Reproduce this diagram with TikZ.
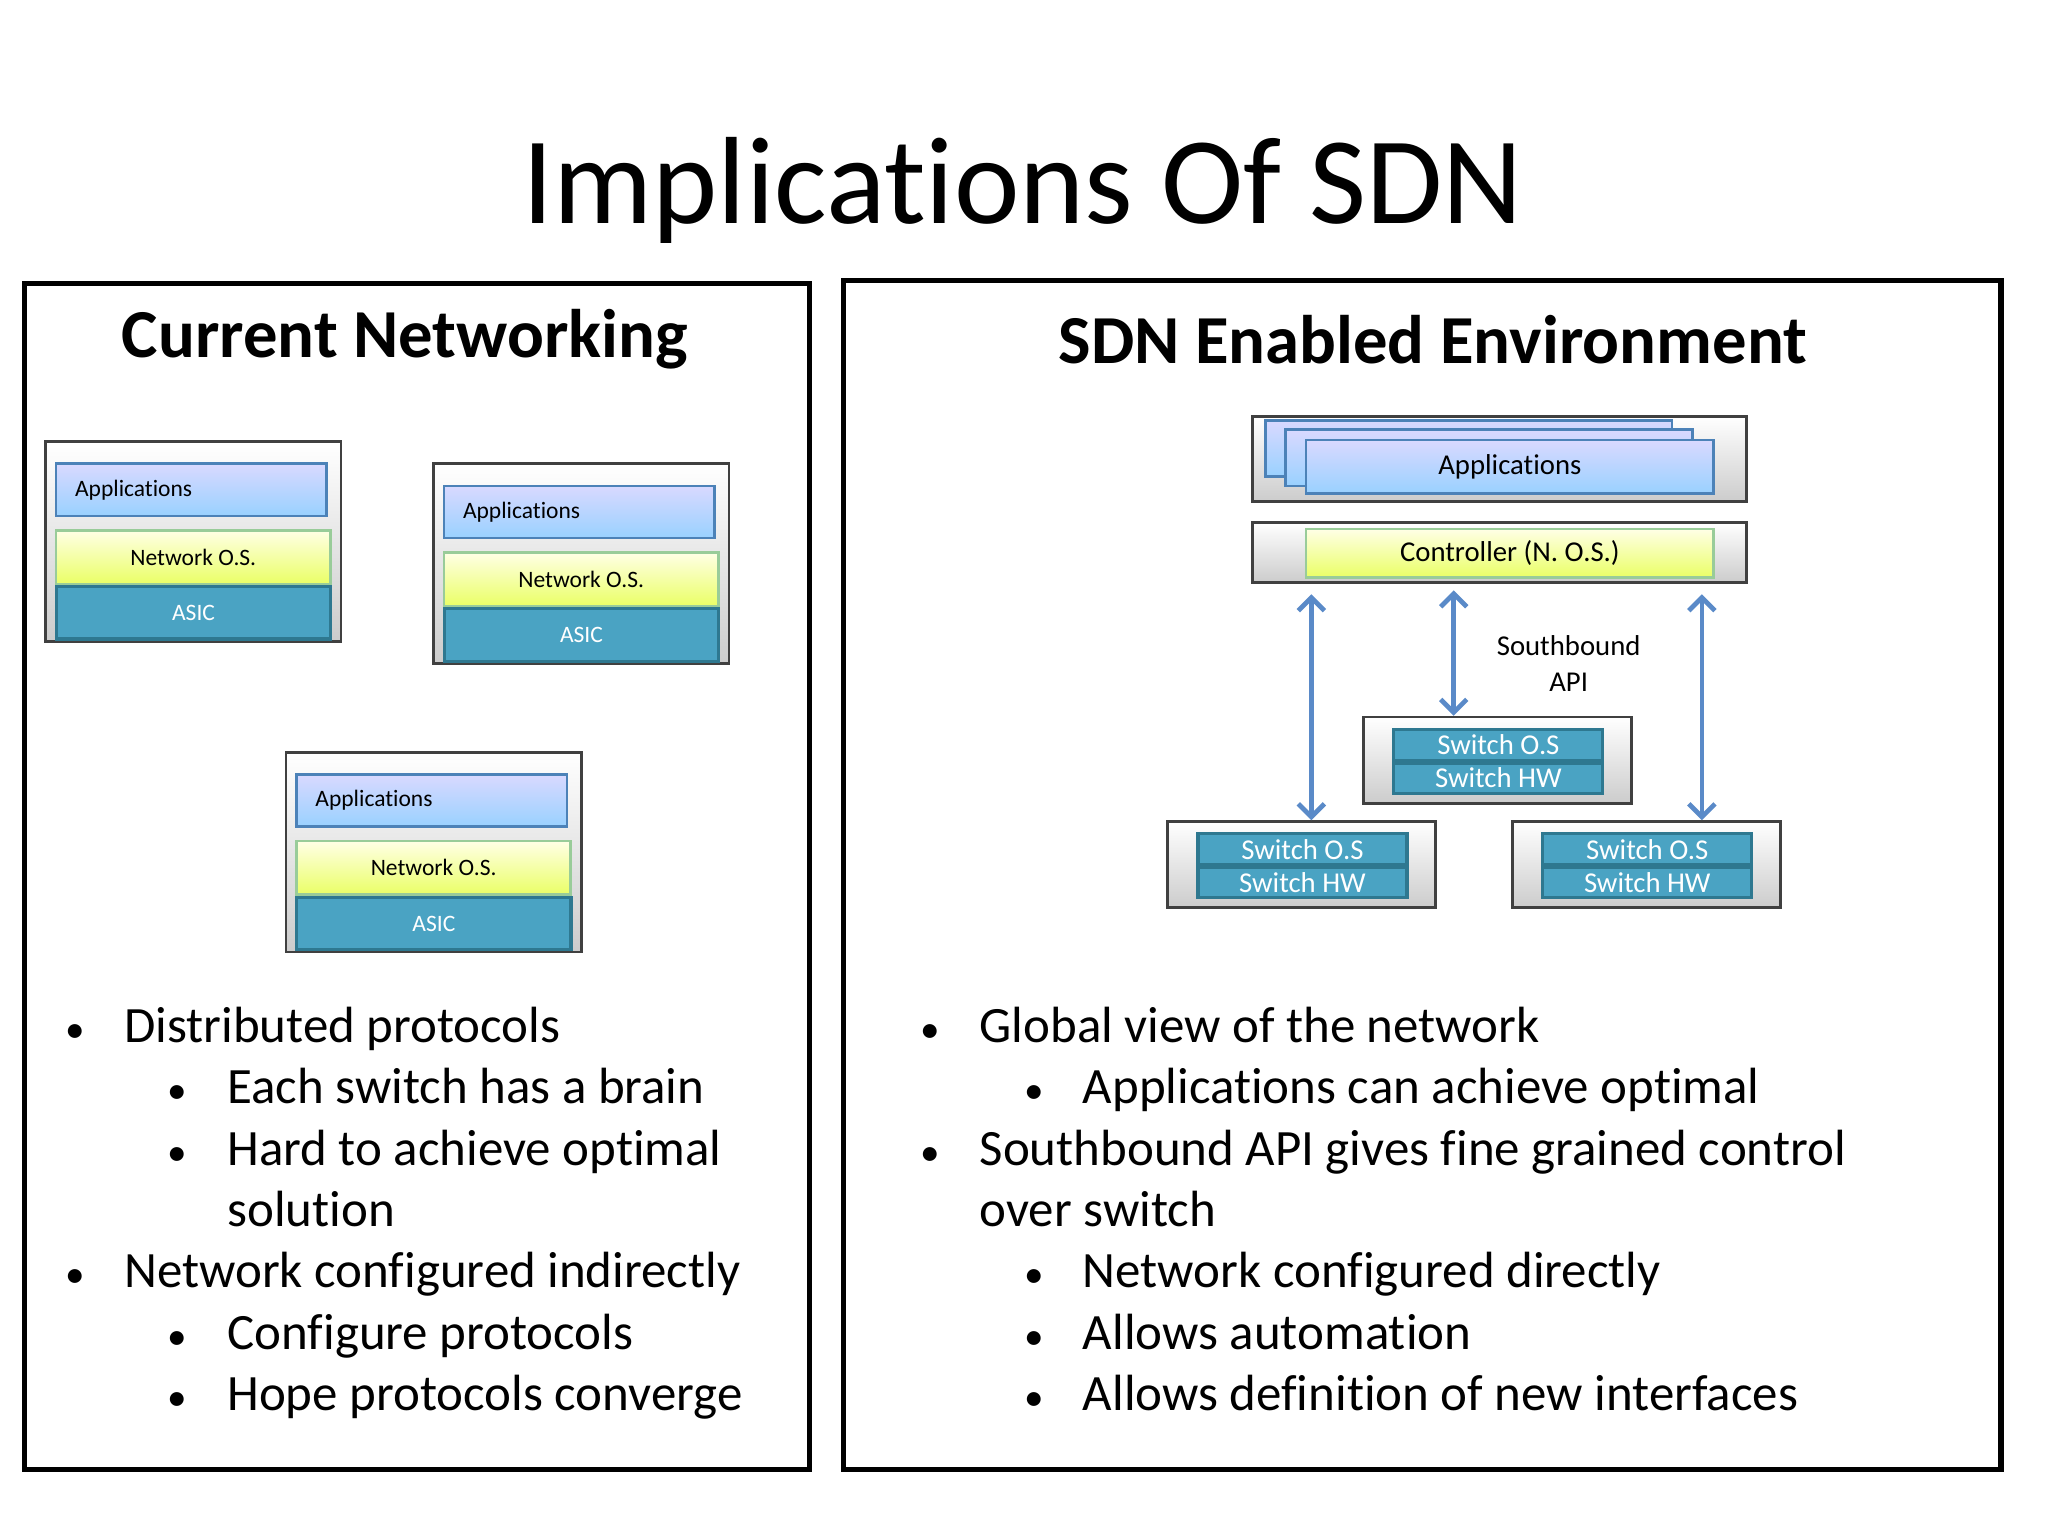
\documentclass[tikz,border=0pt]{standalone}
\usepackage{fontspec}
\setmainfont{Carlito}[Ligatures={NoCommon}]
\usetikzlibrary{arrows.meta}
\definecolor{asicc}{HTML}{4AA3C3}
\definecolor{asicb}{HTML}{2E7890}
\definecolor{arrc}{HTML}{5A8AC8}
\begin{document}
\begin{tikzpicture}[x=0.5pt,y=-0.5pt,
 outer/.style={draw=black!75,line width=1pt,top color=white,bottom color=black!20},
 app/.style={draw=blue!50!cyan!60!black!70,line width=1pt,top color=blue!15,bottom color=blue!45!cyan!40,font=\fontsize{9}{10}\selectfont},
 nos/.style={draw=green!50!black!40,line width=1pt,top color=yellow!10,bottom color=lime!55!yellow!60,font=\fontsize{9}{10}\selectfont},
 asic/.style={draw=asicb,line width=1.2pt,fill=asicc,text=white,font=\fontsize{9}{10}\selectfont},
 sw/.style={draw=asicb,line width=1.2pt,fill=asicc,text=white,font=\fontsize{11}{11}\selectfont},
 frame/.style={draw=black,line width=2pt},
 bul/.style={anchor=base west,font=\fontsize{19.5}{20}\selectfont},
 dot/.style={anchor=base west,font=\fontsize{15}{20}\selectfont},
 arr/.style={draw=arrc,line width=1.8pt,{Straight Barb[length=5pt]}-{Straight Barb[length=5pt]}}]
\useasboundingbox (0,0) rectangle (1568,1176);
\node (title) at (783,146) {\fontsize{47.5}{48}\selectfont Implications Of SDN};
\draw[frame] (19,217) rectangle (620,1125);
\draw[frame] (646,215) rectangle (1532,1125);
\node (lt) at (310,260) {\fontsize{26.3}{27}\selectfont\bfseries Current Networking};
\node (rt) at (1097,260) {\fontsize{26.3}{27}\selectfont\bfseries SDN Enabled Environment};
% left stacks
\foreach \dx/\dy/\n in {0/0/a,297/17/b,184/238/c}{
 \begin{scope}[shift={(\dx,\dy)}]
 \draw[outer] (35,338) rectangle (261,491);
 \node[app,minimum width=103.5pt,minimum height=20pt,anchor=north west,inner sep=0pt,text width=95pt,align=left] (ap\n) at (42,354) {\hspace*{3pt}Applications};
 \node[nos,minimum width=105pt,minimum height=20.5pt,anchor=north west,inner sep=0pt] (no\n) at (42,405) {Network O.S.};
 \node[asic,minimum width=105pt,minimum height=20pt,anchor=north west,inner sep=0pt] (as\n) at (42,448) {ASIC};
 \end{scope}}
% right
\draw[outer] (959,319) rectangle (1337,384);
\draw[app] (969,322) rectangle (1280,365);
\draw[app] (984,329) rectangle (1296,372);
\node[app,minimum width=156pt,minimum height=20.5pt,anchor=north west,inner sep=0pt,font=\fontsize{11}{12}\selectfont] (apps) at (999,336) {Applications};
\draw[outer] (959,400) rectangle (1337,446);
\node[nos,minimum width=156pt,minimum height=18.5pt,anchor=north west,inner sep=0pt,font=\fontsize{11}{12}\selectfont] (ctrl) at (999,404) {Controller (N. O.S.)};
\node[font=\fontsize{11}{14}\selectfont,align=center] (sb) at (1201,508) {Southbound\\API};
\foreach \x/\y/\n in {1044/549/m,894/629/l,1158/629/r}{
 \draw[outer] (\x,\y) rectangle ++(205,66);
 \node[sw,minimum width=80pt,minimum height=12pt,anchor=north west,inner sep=0pt] (so\n) at (\x+22,\y+8) {Switch O.S};
 \node[sw,minimum width=80pt,minimum height=11.5pt,anchor=north west,inner sep=0pt] (sh\n) at (\x+22,\y+34) {Switch HW};
}
\coordinate (c1) at (1004,455); \coordinate (d1) at (1004,628);
\coordinate (c2) at (1113,452); \coordinate (d2) at (1113,548);
\coordinate (c3) at (1303,455); \coordinate (d3) at (1303,628);
\draw[arr] (c1) -- (d1); \draw[arr] (c2) -- (d2); \draw[arr] (c3) -- (d3);
% bullets left
\foreach \y/\t in {798/Distributed protocols,986/Network configured indirectly}{
 \node[dot] at (43,\y) {•}; \node[bul] at (88,\y) {\t};}
\foreach \y/\t in {845/Each switch has a brain,892/Hard to achieve optimal,1033/Configure protocols,1080/Hope protocols converge}{
 \node[dot] at (121,\y) {•}; \node[bul] at (167,\y) {\t};}
\node[bul] at (167,939) {solution};
% bullets right
\foreach \y/\t in {798/Global view of the network,892/Southbound API gives fine grained control}{
 \node[dot] at (698,\y) {•}; \node[bul] at (743,\y) {\t};}
\node[bul] at (743,939) {over switch};
\foreach \y/\t in {845/Applications can achieve optimal,986/Network configured directly,1033/Allows automation,1080/Allows definition of new interfaces}{
 \node[dot] at (777,\y) {•}; \node[bul] at (822,\y) {\t};}
\end{tikzpicture}
\end{document}
